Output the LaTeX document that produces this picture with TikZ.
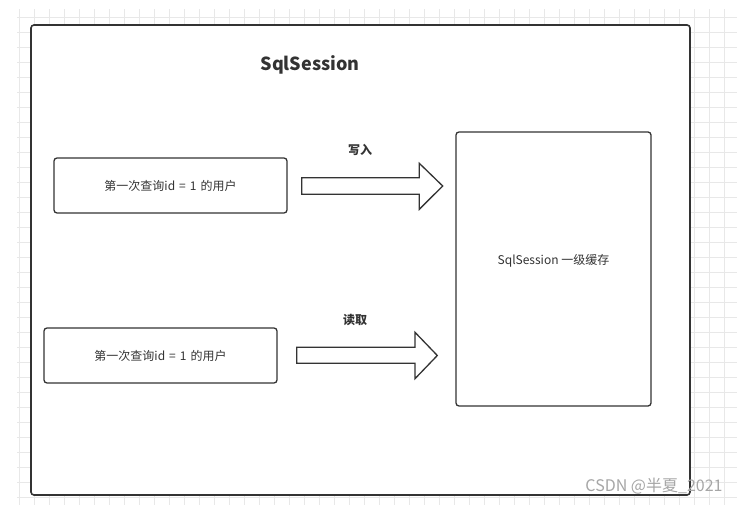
\documentclass[tikz,border=0pt]{standalone}
\usepackage{fontspec}
\setmainfont{Noto Sans CJK SC}
\usepackage{tikz}
\usetikzlibrary{positioning}

\definecolor{linegray}{HTML}{333333}
\definecolor{gridgray}{HTML}{E8E8E8}
\definecolor{markgray}{HTML}{A6A6A6}

\newcommand{\eqgap}{\hspace{4pt}}

\tikzset{
    gridline/.style={draw=gridgray, line width=0.8pt},
    framebox/.style={draw=linegray, line width=1.6pt, rounded corners=3pt},
    querybox/.style={draw=linegray, line width=1.3pt, rounded corners=3pt, fill=white,
        minimum width=233pt, minimum height=55pt, inner sep=0pt,
        font=\fontsize{12}{14}\selectfont, text=linegray},
    cachebox/.style={draw=linegray, line width=1.3pt, rounded corners=3pt, fill=white,
        inner sep=0pt},
    blockarrow/.style={draw=linegray, line width=1.3pt, fill=white, line join=miter},
    arrowlabel/.style={font=\fontsize{12}{14}\selectfont\bfseries, text=linegray}
}

\begin{document}
\begin{tikzpicture}[x=1pt, y=-1pt]
                \useasboundingbox (0, 0) rectangle (742, 505);

                % background grid
                \foreach \gx in {0,...,47}
                    \draw[gridline] (19.3 + 15*\gx, 9) -- (19.3 + 15*\gx, 505);
                \foreach \gy in {0,...,32}
                    \draw[gridline] (17, 17.3 + 15*\gy) -- (737, 17.3 + 15*\gy);

                % outer frame
                \draw[framebox, fill=white] (31, 25) rectangle (690, 495);
                \node[font=\fontsize{18}{20}\selectfont\bfseries, text=linegray] (title) at (310, 65) {SqlSession};

                % query boxes
                \node[querybox] (first) at (170.5, 185.5) {第一次查询id\eqgap{}=\eqgap{}1\eqgap{}的用户};
                \node[querybox] (second) at (160.5, 355.5) {第一次查询id\eqgap{}=\eqgap{}1\eqgap{}的用户};

                % cache
                \draw[cachebox] (456, 132) rectangle (651, 406);
                \node[font=\fontsize{12}{14}\selectfont, text=linegray] (cache) at (553.5, 261) {SqlSession 一级缓存};

                % write arrow
                \coordinate (w) at (301.7, 186);
                \draw[blockarrow] (w) ++(0, -8.3) -- ++(117.6, 0) -- ++(0, -14.4) -- ++(23.4, 22.7)
                    -- ++(-23.4, 23.3) -- ++(0, -15) -- ++(-117.6, 0) -- cycle;
                \node[arrowlabel] (write) at (360, 150) {写入};

                % read arrow
                \coordinate (r) at (296.7, 355.5);
                \draw[blockarrow] (r) ++(0, -8.3) -- ++(118.3, 0) -- ++(0, -14.9) -- ++(22.3, 23.2)
                    -- ++(-22.3, 23.2) -- ++(0, -15.5) -- ++(-118.3, 0) -- cycle;
                \node[arrowlabel] (read) at (355, 320) {读取};

                % watermark
                \node[font=\fontsize{16}{18}\selectfont, text=markgray] (mark) at (654, 486) {CSDN @半夏\_2021};
            \end{tikzpicture}
\end{document}
